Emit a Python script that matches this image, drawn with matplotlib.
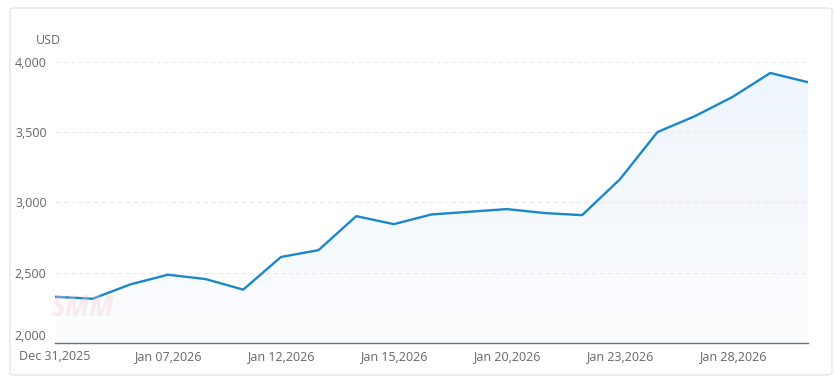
import numpy as np
import matplotlib.pyplot as plt
from matplotlib.patches import FancyBboxPatch, Polygon
from matplotlib.colors import LinearSegmentedColormap

dates = ["Dec 31,2025", "Jan 02,2026", "Jan 05,2026", "Jan 07,2026", "Jan 08,2026",
         "Jan 09,2026", "Jan 12,2026", "Jan 13,2026", "Jan 14,2026", "Jan 15,2026",
         "Jan 16,2026", "Jan 19,2026", "Jan 20,2026", "Jan 21,2026", "Jan 22,2026",
         "Jan 23,2026", "Jan 26,2026", "Jan 27,2026", "Jan 28,2026", "Jan 29,2026",
         "Jan 30,2026"]
prices = [2329, 2315, 2417, 2486, 2455, 2380, 2612, 2661, 2903, 2846, 2915,
          2934, 2953, 2925, 2910, 3164, 3501, 3615, 3752, 3922, 3856]
yticks = [2000, 2500, 3000, 3500, 4000]

plt.rcParams['font.family'] = ['Open Sans', 'DejaVu Sans']

fig = plt.figure(figsize=(8.34, 3.77), dpi=100)
# card border
fig.patches.append(FancyBboxPatch((10/834, 2/377), 822/834, 367/377,
                                  boxstyle="round,pad=0,rounding_size=0.006",
                                  transform=fig.transFigure, fill=False,
                                  edgecolor='#e6e6e6', linewidth=1))

ax = fig.add_axes([55/834, 1 - 343/377, 753/834, 281/377])
x = np.arange(len(prices))

# gradient fill under the line
grad = np.linspace(0, 1, 256).reshape(-1, 1)
cmap = LinearSegmentedColormap.from_list('g', ['#fcfdff', '#eef5fb'])
im = ax.imshow(grad, extent=[0, len(prices) - 1, 2000, max(prices)], origin='lower',
               aspect='auto', cmap=cmap, zorder=1)
poly = Polygon(np.column_stack([np.r_[x, x[-1], x[0]], np.r_[prices, 2000, 2000]]),
               closed=True, facecolor='none', edgecolor='none')
ax.add_patch(poly)
im.set_clip_path(poly)

ax.plot(x, prices, color='#1a87c9', linewidth=1.7, zorder=3)

ax.set_xlim(0, len(prices) - 1)
ax.set_ylim(2000, 4000)
ax.set_yticks(yticks)
ax.set_yticklabels([f"{v:,}" for v in yticks])
ax.set_xticks(x[::3])
ax.set_xticklabels(dates[::3])
ax.tick_params(axis='both', length=0, labelsize=9, colors='#666666')
ax.tick_params(axis='y', pad=6)
ax.tick_params(axis='x', pad=5)
ax.grid(axis='y', color='#e8e8e8', linestyle=(0, (4, 3)), linewidth=0.8)
ax.grid(axis='x', visible=False)
for side in ['left', 'right', 'top']:
    ax.spines[side].set_visible(False)
ax.spines['bottom'].set_color('#6e7079')
ax.spines['bottom'].set_linewidth(1)
ax.spines['bottom'].set_zorder(4)
# lift the lowest y label a touch so it clears the first date
ax.get_yticklabels()[0].set_va('bottom')

fig.text(48/834, 1 - 40/377, "USD", ha='center', va='center', fontsize=9, color='#666666')
# faint watermark
fig.text(82/834, 1 - 308/377, "SMM", ha='center', va='center', fontsize=20,
         fontweight='bold', fontstyle='italic', color='#f5c9cf', alpha=0.35, zorder=0)

fig.savefig('out.png', dpi=100)
